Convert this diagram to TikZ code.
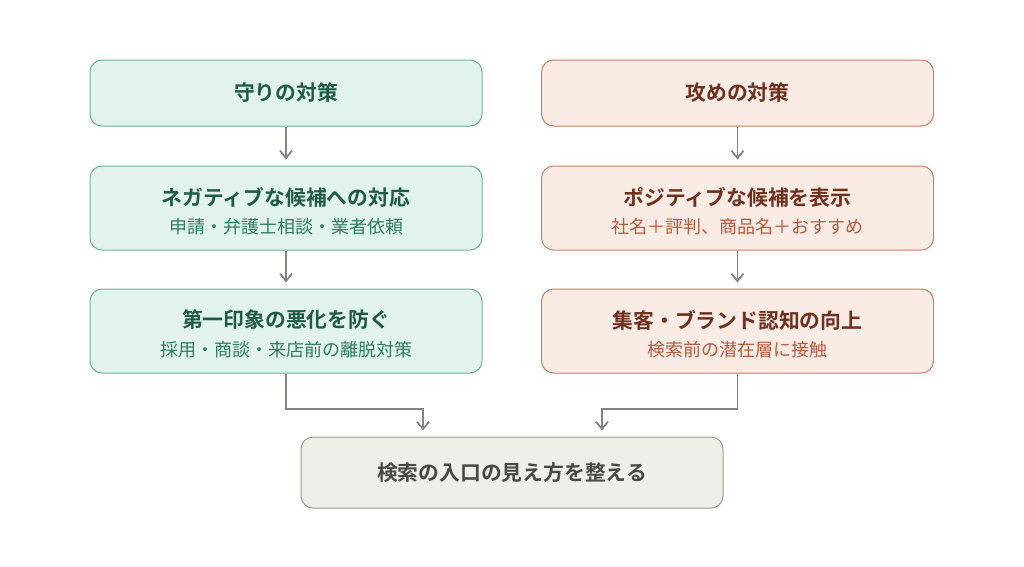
\documentclass[tikz,border=0pt]{standalone}
\usepackage{fontspec}
\setmainfont{Noto Sans CJK JP}[BoldFont={Noto Sans CJK JP Bold}]
\usepackage{xcolor}
\usetikzlibrary{arrows.meta}
\definecolor{bg}{HTML}{FFFFFF}
\definecolor{grfill}{HTML}{E2F3EC}
\definecolor{grline}{HTML}{6DB396}
\definecolor{grtext}{HTML}{1F5C45}
\definecolor{grsub}{HTML}{2E7E60}
\definecolor{rdfill}{HTML}{FAEBE5}
\definecolor{rdline}{HTML}{CC7E66}
\definecolor{rdtext}{HTML}{70301C}
\definecolor{rdsub}{HTML}{B85A3E}
\definecolor{gyfill}{HTML}{F0EEE8}
\definecolor{gyline}{HTML}{9C9A93}
\definecolor{gytext}{HTML}{4A4843}
\definecolor{arrc}{HTML}{858580}
\tikzset{
  boxg/.style={draw=grline, fill=grfill, line width=1pt, rounded corners=12pt, minimum width=392pt},
  boxr/.style={draw=rdline, fill=rdfill, line width=1pt, rounded corners=12pt, minimum width=392pt},
  boxb/.style={draw=gyline, fill=gyfill, line width=1pt, rounded corners=12pt, minimum width=422pt, minimum height=71pt},
  ttl/.style={font=\bfseries\fontsize{20.8}{24}\selectfont},
  sub/.style={font=\fontsize{18}{21}\selectfont},
  arr/.style={draw=arrc, line width=1.8pt, -{Straight Barb[length=2.6mm,width=4.2mm]}, shorten >=6pt},
}
\begin{document}
\begin{tikzpicture}[x=1pt,y=-1pt]
  \useasboundingbox[fill=bg] (0,0) rectangle (1024,566);
  \def\xl{286}
  \def\xr{737.5}

  % left column
  \node[boxg, minimum height=66pt] (g1) at (\xl,93) {};
  \node[ttl, text=grtext] (g1t) at (g1.center) {守りの対策};
  \node[boxg, minimum height=84pt] (g2) at (\xl,208) {};
  \node[ttl, text=grtext] (g2t) at (\xl,197) {ネガティブな候補への対応};
  \node[sub, text=grsub] (g2s) at (\xl,227) {申請・弁護士相談・業者依頼};
  \node[boxg, minimum height=84pt] (g3) at (\xl,331) {};
  \node[ttl, text=grtext] (g3t) at (\xl,320) {第一印象の悪化を防ぐ};
  \node[sub, text=grsub] (g3s) at (\xl,350) {採用・商談・来店前の離脱対策};

  % right column
  \node[boxr, minimum height=66pt] (r1) at (\xr,93) {};
  \node[ttl, text=rdtext] (r1t) at (r1.center) {攻めの対策};
  \node[boxr, minimum height=84pt] (r2) at (\xr,208) {};
  \node[ttl, text=rdtext] (r2t) at (\xr,197) {ポジティブな候補を表示};
  \node[sub, text=rdsub] (r2s) at (\xr,227) {社名＋評判、商品名＋おすすめ};
  \node[boxr, minimum height=84pt] (r3) at (\xr,331) {};
  \node[ttl, text=rdtext] (r3t) at (\xr,320) {集客・ブランド認知の向上};
  \node[sub, text=rdsub] (r3s) at (\xr,350) {検索前の潜在層に接触};

  % goal
  \node[boxb] (bot) at (512,472.5) {};
  \node[ttl, text=gytext] (bott) at (bot.center) {検索の入口の見え方を整える};

  \draw[arr] (g1) -- (g2);
  \draw[arr] (g2) -- (g3);
  \draw[arr] (r1) -- (r2);
  \draw[arr] (r2) -- (r3);
  \draw[arr] (g3.south) -- (\xl,409) -| ([xshift=-89pt]bot.north);
  \draw[arr] (r3.south) -- (\xr,409) -| ([xshift=90pt]bot.north);
\end{tikzpicture}
\end{document}
